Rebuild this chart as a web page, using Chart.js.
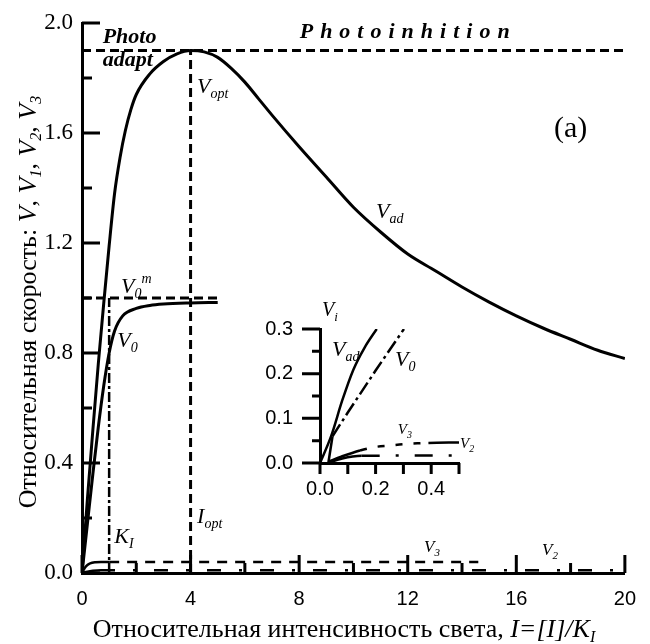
<!DOCTYPE html>
<html>
<head>
<meta charset="utf-8">
<script src="https://cdn.jsdelivr.net/npm/chart.js@4.4.1/dist/chart.umd.min.js"></script>
<style>
  html, body { margin: 0; padding: 0; background: #fff; }
  #wrap { position: relative; width: 650px; height: 644px; }
  #main { position: absolute; left: 0; top: 0; }
  #inset { position: absolute; left: 240px; top: 290px; }
</style>
</head>
<body>
<div id="wrap">
  <canvas id="main" width="650" height="644" style="width:650px;height:644px"></canvas>
  <canvas id="inset" width="240" height="230" style="width:240px;height:230px"></canvas>
</div>
<script>
// ---- main panel: relative rate vs relative light intensity ----
const intensityAd = [0, 0.2, 0.4, 0.6, 0.8, 1.0, 1.2, 1.4, 1.6, 1.8, 2.0, 2.5, 3.0, 3.5, 4.0, 4.5, 5.0, 5.5, 6.0, 6.5, 7.0, 8.0, 9.0, 10, 11, 12, 13, 14, 15, 16, 17, 18, 19, 20];
const vAd = [0, 0.27, 0.52, 0.76, 0.98, 1.19, 1.38, 1.51, 1.61, 1.685, 1.74, 1.815, 1.86, 1.888, 1.9, 1.895, 1.875, 1.835, 1.785, 1.725, 1.665, 1.55, 1.44, 1.33, 1.24, 1.16, 1.1, 1.04, 0.985, 0.935, 0.89, 0.85, 0.81, 0.78];

const intensity0 = [0, 0.2, 0.4, 0.6, 0.8, 1.0, 1.2, 1.5, 2.0, 2.5, 3.0, 4.0, 5.0];
const v0 = [0, 0.18, 0.36, 0.53, 0.68, 0.8, 0.88, 0.935, 0.962, 0.973, 0.978, 0.982, 0.984];

const intensity3 = [0, 0.1, 0.2, 0.3, 0.5, 0.7, 1.0, 14.6];
const v3 = [0, 0.018, 0.029, 0.035, 0.039, 0.04, 0.04, 0.04];

const intensity2 = [0, 0.2, 0.4, 0.7, 1.0, 20];
const v2 = [0, 0.005, 0.008, 0.01, 0.01, 0.01];

const kI = 1;          // half-saturation intensity
const iOpt = 4;        // optimal intensity
const vOpt = 1.9;      // maximal adapted rate
const v0Max = 1.0;     // saturation level of V0
const v0End = 5.03;    // extent of the V0 saturation guide
const iMax = 20;

// ---- inset: initial part of the curves ----
const inIAd = [0, 0.04, 0.08, 0.12, 0.16, 0.204];
const inVAd = [0, 0.06, 0.14, 0.209, 0.258, 0.3];
const inI0 = [0.03, 0.045, 0.1, 0.2, 0.302];
const inV0 = [0, 0.06, 0.113, 0.207, 0.3];
const inI3 = [0.03, 0.08, 0.144, 0.2, 0.25, 0.3, 0.35, 0.39, 0.5];
const inV3 = [0.003, 0.015, 0.028, 0.036, 0.039, 0.042, 0.044, 0.045, 0.046];
const inI2 = [0.03, 0.08, 0.15, 0.5];
const inV2 = [0, 0.01, 0.016, 0.017];

const SERIF = '"Liberation Serif", "Times New Roman", serif';
const SANS = '"Liberation Sans", Arial, sans-serif';
const pts = (xs, ys) => xs.map((x, i) => ({ x, y: ys[i] }));

const it = (s) => 'italic ' + s + 'px ' + SERIF;
const rg = (s) => s + 'px ' + SERIF;
const bi = (s) => 'italic bold ' + s + 'px ' + SERIF;

function drawRich(ctx, parts, x, y, align) {
  let w = 0;
  parts.forEach(p => { ctx.font = p.f; w += ctx.measureText(p.t).width + (p.gap || 0); });
  let cx = align === 'center' ? x - w / 2 : x;
  parts.forEach(p => {
    ctx.font = p.f;
    ctx.fillText(p.t, cx, y + (p.dy || 0));
    cx += ctx.measureText(p.t).width + (p.gap || 0);
  });
}

function spaced(text, font, spacing) {
  return text.split('').map(ch => ({ t: ch, f: font, gap: spacing }));
}

// tick marks drawn along the axes (inward for the main panel, outward for the inset)
const tickMarks = {
  id: 'tickMarks',
  afterDraw(chart, args, o) {
    const { ctx } = chart;
    const xs = chart.scales.x, ys = chart.scales.y;
    ctx.save();
    ctx.strokeStyle = '#000';
    ctx.lineWidth = o.width;
    ctx.lineCap = 'butt';
    ctx.beginPath();
    xs.ticks.forEach(t => {
      const p = xs.getPixelForValue(t.value);
      const len = (t.label !== '' ? o.major : o.minor) * o.dir;
      ctx.moveTo(p, xs.top);
      ctx.lineTo(p, xs.top - len);
    });
    ys.ticks.forEach(t => {
      const p = ys.getPixelForValue(t.value);
      const len = (t.label !== '' ? o.majorY || o.major : o.minorY || o.minor) * o.dir;
      ctx.moveTo(ys.right, p);
      ctx.lineTo(ys.right + len, p);
    });
    ctx.stroke();
    ctx.restore();
  }
};

// text annotations placed at data coordinates
const notes = {
  id: 'notes',
  afterDraw(chart, args, o) {
    const { ctx } = chart;
    const xs = chart.scales.x, ys = chart.scales.y;
    ctx.save();
    ctx.fillStyle = '#000';
    ctx.textBaseline = 'alphabetic';
    (o.items || []).forEach(n => {
      drawRich(ctx, n.parts, xs.getPixelForValue(n.x), ys.getPixelForValue(n.y), n.align || 'left');
    });
    if (o.titles) o.titles(ctx, chart);
    ctx.restore();
  }
};

const line = (data, extra) => Object.assign({
  data, showLine: true, pointRadius: 0, borderColor: '#000', borderWidth: 3,
  fill: false, borderCapStyle: 'butt'
}, extra || {});

const mainNotes = [
  { x: 0.76, y: 1.927, parts: [{ t: 'Photo', f: bi(22) }] },
  { x: 0.76, y: 1.843, parts: [{ t: 'adapt', f: bi(22) }] },
  { x: 8.02, y: 1.945, parts: spaced('Photoinhition', bi(22), 7) },
  { x: 4.24, y: 1.745, parts: [{ t: 'V', f: it(22) }, { t: 'opt', f: it(14), dy: 5 }] },
  { x: 10.83, y: 1.29, parts: [{ t: 'V', f: it(22) }, { t: 'ad', f: it(14), dy: 5 }] },
  { x: 1.44, y: 1.018, parts: [{ t: 'V', f: it(22) }, { t: '0', f: it(14), dy: 5 }, { t: 'm', f: it(14), dy: -10 }] },
  { x: 1.3, y: 0.822, parts: [{ t: 'V', f: it(22) }, { t: '0', f: it(14), dy: 5 }] },
  { x: 1.19, y: 0.109, parts: [{ t: 'K', f: it(22) }, { t: 'I', f: it(14), dy: 5 }] },
  { x: 4.24, y: 0.182, parts: [{ t: 'I', f: it(22) }, { t: 'opt', f: it(14), dy: 5 }] },
  { x: 12.6, y: 0.076, parts: [{ t: 'V', f: it(17) }, { t: '3', f: it(11), dy: 4 }] },
  { x: 16.95, y: 0.065, parts: [{ t: 'V', f: it(17) }, { t: '2', f: it(11), dy: 4 }] },
  { x: 18.0, y: 1.585, parts: [{ t: '(a)', f: rg(30) }], align: 'center' }
];

function mainTitles(ctx, chart) {
  // x-axis title
  drawRich(ctx, [
    { t: 'Относительная интенсивность света, ', f: rg(26) },
    { t: 'I=[I]/K', f: it(26) },
    { t: 'I', f: it(16), dy: 5 }
  ], 344, 637, 'center');
  // y-axis title
  ctx.save();
  ctx.translate(36, 302);
  ctx.rotate(-Math.PI / 2);
  drawRich(ctx, [
    { t: 'Относительная скорость: ', f: rg(26) },
    { t: 'V', f: it(26) }, { t: ', ', f: rg(26) },
    { t: 'V', f: it(26) }, { t: '1', f: it(16), dy: 5 }, { t: ', ', f: rg(26) },
    { t: 'V', f: it(26) }, { t: '2', f: it(16), dy: 5 }, { t: ', ', f: rg(26) },
    { t: 'V', f: it(26) }, { t: '3', f: it(16), dy: 5 }
  ], 0, 0, 'center');
  ctx.restore();
}

new Chart(document.getElementById('main'), {
  type: 'scatter',
  data: {
    datasets: [
      line(pts(intensityAd, vAd), { cubicInterpolationMode: 'monotone' }),
      line(pts(intensity0, v0), { cubicInterpolationMode: 'monotone' }),
      line([{ x: 0, y: vOpt }, { x: iMax, y: vOpt }], { borderDash: [9, 5] }),
      line([{ x: iOpt, y: 0 }, { x: iOpt, y: vOpt }], { borderDash: [9, 5] }),
      line([{ x: 0, y: v0Max }, { x: v0End, y: v0Max }], { borderDash: [9, 5] }),
      line([{ x: kI, y: 0 }, { x: kI, y: v0Max }], { borderDash: [10, 3, 3, 3], borderWidth: 2.5 }),
      line(pts(intensity3, v3), {
        borderWidth: 2.5, cubicInterpolationMode: 'monotone',
        segment: { borderDash: c => c.p0.parsed.x >= kI ? [10, 8] : [] }
      }),
      line(pts(intensity2, v2), {
        borderWidth: 2.5, cubicInterpolationMode: 'monotone',
        segment: { borderDash: c => c.p0.parsed.x >= 0.7 ? [14, 18, 3, 18] : [] }
      })
    ]
  },
  options: {
    responsive: false,
    animation: false,
    events: [],
    layout: { padding: { top: 23, right: 12, left: 0, bottom: 0 } },
    plugins: {
      legend: { display: false },
      tooltip: { enabled: false },
      tickMarks: { dir: 1, major: 18, minor: 10, width: 3 },
      notes: { items: mainNotes, titles: mainTitles }
    },
    scales: {
      x: {
        type: 'linear', min: 0, max: iMax,
        grid: { display: false, drawTicks: false },
        border: { display: true, color: '#000', width: 3 },
        ticks: {
          stepSize: 2, autoSkip: false, maxRotation: 0, padding: 14, color: '#000',
          font: { family: SANS, size: 20 },
          callback: v => (v % 4 === 0 ? String(v) : '')
        },
        afterFit: s => { s.height = 71; }
      },
      y: {
        type: 'linear', min: 0, max: 2,
        grid: { display: false, drawTicks: false },
        border: { display: true, color: '#000', width: 3 },
        ticks: {
          stepSize: 0.2, autoSkip: false, padding: 9, color: '#000',
          font: { family: SERIF, size: 23 },
          callback: v => (Math.abs(v / 0.4 - Math.round(v / 0.4)) < 1e-6 ? v.toFixed(1) : '')
        },
        afterFit: s => { s.width = 82; }
      }
    }
  },
  plugins: [tickMarks, notes]
});

const insetNotes = [
  { x: 0.007, y: 0.33, parts: [{ t: 'V', f: it(20) }, { t: 'i', f: it(13), dy: 5 }] },
  { x: 0.043, y: 0.239, parts: [{ t: 'V', f: it(22) }, { t: 'ad', f: it(14), dy: 5 }] },
  { x: 0.27, y: 0.217, parts: [{ t: 'V', f: it(22) }, { t: '0', f: it(14), dy: 5 }] },
  { x: 0.28, y: 0.065, parts: [{ t: 'V', f: it(15) }, { t: '3', f: it(10), dy: 4 }] },
  { x: 0.504, y: 0.033, parts: [{ t: 'V', f: it(15) }, { t: '2', f: it(10), dy: 4 }] }
];

new Chart(document.getElementById('inset'), {
  type: 'scatter',
  data: {
    datasets: [
      line(pts(inIAd, inVAd), { borderWidth: 2.5, cubicInterpolationMode: 'monotone' }),
      line(pts(inI0, inV0), {
        borderWidth: 2.5,
        segment: { borderDash: c => c.p0.parsed.x >= 0.045 ? [14, 4, 3, 4] : [] }
      }),
      line(pts(inI3, inV3), {
        borderWidth: 2.5, cubicInterpolationMode: 'monotone',
        segment: { borderDash: c => (c.p0.parsed.x >= 0.144 && c.p0.parsed.x < 0.39) ? [7, 11] : [] }
      }),
      line(pts(inI2, inV2), {
        borderWidth: 2.5, cubicInterpolationMode: 'monotone',
        segment: { borderDash: c => c.p0.parsed.x >= 0.15 ? [18, 16, 3, 16] : [] }
      })
    ]
  },
  options: {
    responsive: false,
    animation: false,
    events: [],
    layout: { padding: { top: 35, right: 21, left: 0, bottom: 0 } },
    plugins: {
      legend: { display: false },
      tooltip: { enabled: false },
      tickMarks: { dir: -1, major: 11, minor: 11, majorY: 18, minorY: 8, width: 3 },
      notes: { items: insetNotes }
    },
    scales: {
      x: {
        type: 'linear', min: 0, max: 0.5,
        grid: { display: false, drawTicks: false },
        border: { display: true, color: '#000', width: 3 },
        ticks: {
          stepSize: 0.1, autoSkip: false, maxRotation: 0, padding: 14, color: '#000',
          font: { family: SANS, size: 20 },
          callback: v => (Math.abs(v / 0.2 - Math.round(v / 0.2)) < 1e-6 ? v.toFixed(1) : '')
        },
        afterFit: s => { s.height = 57; }
      },
      y: {
        type: 'linear', min: 0, max: 0.3,
        grid: { display: false, drawTicks: false },
        border: { display: true, color: '#000', width: 3 },
        ticks: {
          stepSize: 0.05, autoSkip: false, padding: 27, color: '#000',
          font: { family: SANS, size: 20 },
          callback: v => (Math.abs(v / 0.1 - Math.round(v / 0.1)) < 1e-6 ? v.toFixed(1) : '')
        },
        afterFit: s => { s.width = 80; }
      }
    }
  },
  plugins: [tickMarks, notes]
});
</script>
</body>
</html>
